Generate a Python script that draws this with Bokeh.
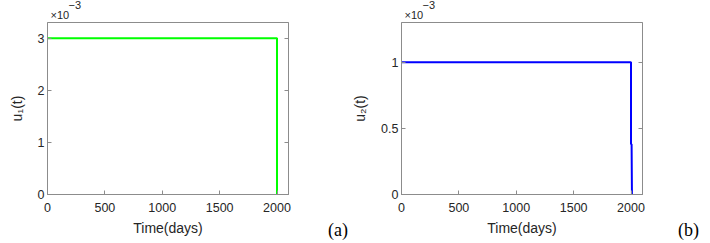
from bokeh.plotting import figure
from bokeh.layouts import row
from bokeh.models import (Range1d, FixedTicker, LinearAxis, Title, Div,
                          CustomJSTickFormatter, ColumnDataSource)
from bokeh.embed import file_html
from bokeh.resources import INLINE

# ---- data ----
t1 = [0, 2000, 2000]
u1 = [0.003, 0.003, 0.0]
t2 = [0, 2000, 2000, 2005, 2008]
u2 = [0.001, 0.001, 0.00038, 0.00038, 0.0]

x_ticks = [0, 500, 1000, 1500, 2000]
y_ticks_a = [0, 0.001, 0.002, 0.003]
y_ticks_b = [0, 0.0005, 0.001]

FONT = "Liberation Sans"
AX_COL = "#8c8c8c"
TXT_COL = "#262626"

fmt_code = "const v = Math.round(tick*1e4)/10; return String(v);"


def make_panel(t, u, color, ylabel, ymax, yticks):
    p = figure(frame_width=241, frame_height=172,
               min_border_left=47, min_border_right=20,
               min_border_top=22, min_border_bottom=49,
               x_range=Range1d(0, 2100), y_range=Range1d(0, ymax),
               output_backend="svg", toolbar_location=None,
               background_fill_color="white", border_fill_color="white")
    p.grid.visible = False
    p.outline_line_color = AX_COL
    src = ColumnDataSource(dict(t=t, u=u))
    p.line("t", "u", source=src, line_color=color, line_width=2)

    for ax in (p.xaxis[0], p.yaxis[0]):
        ax.axis_line_color = AX_COL
        ax.major_tick_line_color = AX_COL
        ax.minor_tick_line_color = None
        ax.major_tick_in = 4
        ax.major_tick_out = 0
        ax.major_label_text_font = FONT
        ax.major_label_text_font_size = "12.5px"
        ax.major_label_text_color = TXT_COL
        ax.axis_label_text_font = FONT
        ax.axis_label_text_font_size = "14px"
        ax.axis_label_text_font_style = "normal"
        ax.axis_label_text_color = TXT_COL
    p.xaxis.ticker = FixedTicker(ticks=x_ticks)
    p.yaxis.ticker = FixedTicker(ticks=yticks)
    p.yaxis.formatter = CustomJSTickFormatter(code=fmt_code)
    p.xaxis.axis_label = "Time(days)"
    p.yaxis.axis_label = ylabel
    p.xaxis.major_label_standoff = 8
    p.xaxis.axis_label_standoff = 5
    p.yaxis.major_label_standoff = 3
    p.yaxis.axis_label_standoff = 10

    # box ticks on the right side
    ax = LinearAxis(ticker=FixedTicker(ticks=yticks),
                    formatter=CustomJSTickFormatter(code="return '';"))
    ax.axis_line_color = AX_COL
    ax.major_tick_line_color = AX_COL
    ax.minor_tick_line_color = None
    ax.major_tick_in = 4
    ax.major_tick_out = 0
    ax.major_label_standoff = 0
    ax.major_label_text_font_size = "1px"
    p.add_layout(ax, "right")

    # exponent marker  x10^-3 (two stacked titles)
    p.add_layout(Title(text="×10", align="left", offset=3, standoff=3,
                       text_font=FONT, text_font_size="11px",
                       text_font_style="normal", text_color=TXT_COL), "above")
    p.add_layout(Title(text="−3", align="left", offset=21, standoff=-6,
                       text_font=FONT, text_font_size="11px",
                       text_font_style="normal", text_color=TXT_COL), "above")
    return p


def tag_div(tag, shift):
    return Div(text=f'<span style="position:relative;left:{shift}px">{tag}</span>',
               width=31, height=243,
               styles={"font-family": "Liberation Serif", "font-size": "18px",
                       "color": "black", "text-align": "right",
                       "padding-top": "216px", "padding-right": "0px",
                       "box-sizing": "border-box", "line-height": "18px",
                       "white-space": "nowrap"})


pa = make_panel(t1, u1, "#00ff00", "u₁(t)", 0.0033, y_ticks_a)
pb = make_panel(t2, u2, "#0000ff", "u₂(t)", 0.0013, y_ticks_b)

layout = row(pa, tag_div("(a)", 4), pb, tag_div("(b)", 1), spacing=0)
open("out.html", "w").write(file_html(layout, INLINE))
